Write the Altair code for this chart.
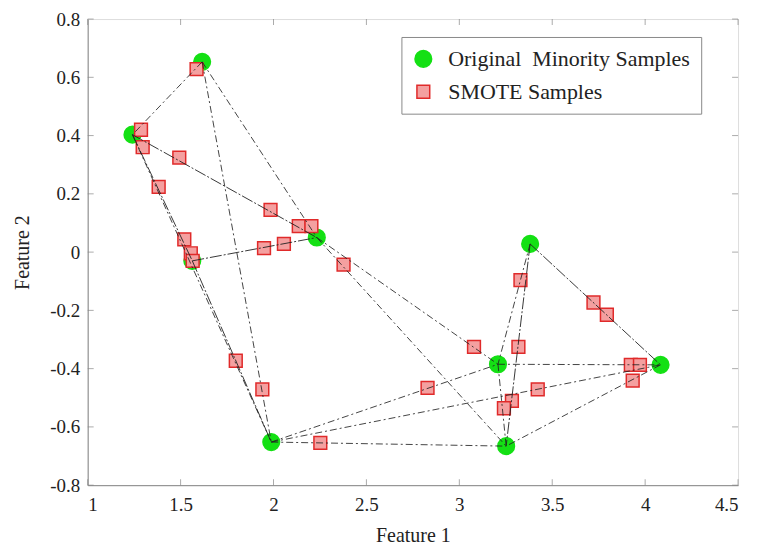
import altair as alt
import pandas as pd

# Original minority samples
orig_x = [1.616, 1.241, 1.563, 2.233, 1.988, 3.381, 3.208, 4.083, 3.252]
orig_y = [0.653, 0.403, -0.030, 0.050, -0.652, 0.028, -0.385, -0.387, -0.666]

# SMOTE synthetic samples
smote_x = [1.586, 1.287, 1.296, 1.493, 1.382, 1.984, 2.136, 2.204, 1.520, 1.555,
           1.565, 1.949, 2.056, 2.377, 1.797, 1.940, 2.252, 3.329, 3.722, 3.794,
           3.079, 3.318, 3.923, 3.972, 3.933, 2.829, 3.422, 3.283, 3.240]
smote_y = [0.628, 0.420, 0.360, 0.324, 0.224, 0.145, 0.089, 0.089, 0.044, -0.004,
           -0.030, 0.0135, 0.028, -0.043, -0.373, -0.471, -0.655, -0.096, -0.173, -0.215,
           -0.325, -0.325, -0.387, -0.387, -0.441, -0.466, -0.471, -0.511, -0.536]

# neighbour links between original samples (index pairs)
dash_edges = [(0, 1), (0, 3), (0, 4), (3, 8), (3, 6), (4, 6), (4, 7), (4, 8),
              (5, 6), (6, 7), (6, 8), (7, 8), (1, 4)]
solid_edges = [(1, 3), (1, 2), (2, 3), (2, 4), (5, 7), (5, 8)]

x_ticks = [1, 1.5, 2, 2.5, 3, 3.5, 4, 4.5]
y_ticks = [-0.8, -0.6, -0.4, -0.2, 0, 0.2, 0.4, 0.6, 0.8]

LAB_O = "Original\u00a0 Minority Samples"
LAB_S = "SMOTE Samples"

W, H = 653, 468
FONT = "Liberation Serif"

pts = pd.DataFrame({
    "x": orig_x + smote_x,
    "y": orig_y + smote_y,
    "type": [LAB_O] * len(orig_x) + [LAB_S] * len(smote_x),
})

def seg_df(edges, style):
    return pd.DataFrame({
        "x": [orig_x[a] for a, b in edges],
        "y": [orig_y[a] for a, b in edges],
        "x2": [orig_x[b] for a, b in edges],
        "y2": [orig_y[b] for a, b in edges],
        "style": style,
    })

xs = alt.Scale(domain=[1, 4.5], nice=False, zero=False)
ys = alt.Scale(domain=[-0.8, 0.8], nice=False, zero=False)

xax = alt.Axis(values=x_ticks, labelExpr="toString(datum.value)", title="Feature 1",
               grid=False, ticks=False, labelPadding=10, titlePadding=12,
               domainColor="#888", labelFont=FONT, titleFont=FONT,
               labelFontSize=19, titleFontSize=20, labelColor="#222", titleColor="#222",
               titleFontWeight="normal")
yax = alt.Axis(values=y_ticks, labelExpr="toString(datum.value)", title="Feature 2",
               grid=False, ticks=False, labelPadding=8, titlePadding=17,
               domainColor="#888", labelFont=FONT, titleFont=FONT,
               labelFontSize=19, titleFontSize=20, labelColor="#222", titleColor="#222",
               titleFontWeight="normal")

domain = [LAB_O, LAB_S]
leg = alt.Legend(title=None, orient="none", legendX=315, legendY=18,
                 labelFont=FONT, labelFontSize=22, labelColor="#222", labelLimit=0,
                 strokeColor="#888", fillColor="white", padding=11,
                 rowPadding=10, labelOffset=14, symbolStrokeWidth=1.5)

points = alt.Chart(pts).mark_point(filled=False, opacity=1, strokeWidth=1.5).encode(
    x=alt.X("x:Q", scale=xs, axis=xax),
    y=alt.Y("y:Q", scale=ys, axis=yax),
    fill=alt.Fill("type:N", scale=alt.Scale(domain=domain, range=["#14e014", "#f4a0a0"]), legend=leg),
    stroke=alt.Stroke("type:N", scale=alt.Scale(domain=domain, range=["#14e014", "#e02a2a"]), legend=leg),
    shape=alt.Shape("type:N", scale=alt.Scale(domain=domain, range=["circle", "square"]), legend=leg),
    size=alt.Size("type:N", scale=alt.Scale(domain=domain, range=[280, 165]), legend=leg),
    order=alt.Order("type:N"),
)

dash_lines = alt.Chart(seg_df(dash_edges, "dash")).mark_rule(
    color="#222", strokeWidth=1, strokeDash=[7, 3, 2, 3], opacity=0.85
).encode(x="x:Q", y="y:Q", x2="x2:Q", y2="y2:Q")

solid_lines = alt.Chart(seg_df(solid_edges, "solid")).mark_rule(
    color="#222", strokeWidth=1, strokeDash=[12, 2, 2, 2], opacity=0.9
).encode(x="x:Q", y="y:Q", x2="x2:Q", y2="y2:Q")

tick_x = pd.DataFrame({"v": x_ticks})
tick_y = pd.DataFrame({"v": y_ticks})
tick_style = dict(color="#888", thickness=1, size=6)
tb = alt.Chart(tick_x).mark_tick(orient="vertical", **tick_style).encode(x="v:Q", y=alt.value(H - 3))
tt = alt.Chart(tick_x).mark_tick(orient="vertical", **tick_style).encode(x="v:Q", y=alt.value(3))
tl = alt.Chart(tick_y).mark_tick(orient="horizontal", **tick_style).encode(y="v:Q", x=alt.value(3))
tr = alt.Chart(tick_y).mark_tick(orient="horizontal", **tick_style).encode(y="v:Q", x=alt.value(W - 3))

chart = alt.layer(points, dash_lines, solid_lines, tb, tt, tl, tr).properties(
    width=W, height=H,
    autosize=alt.AutoSizeParams(type="none"),
    padding={"left": 80, "top": 10, "right": 14, "bottom": 62},
).configure_view(stroke="#888", strokeWidth=1).configure(background="white")

chart.save("out.html", embed_options={"renderer": "svg", "actions": False})
